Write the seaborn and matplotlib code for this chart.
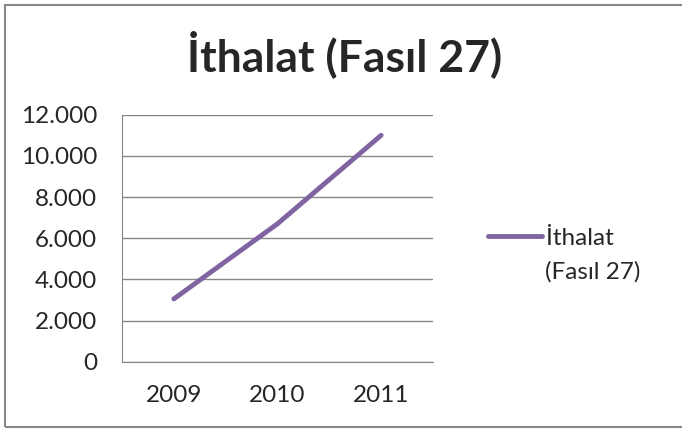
import matplotlib
matplotlib.use("Agg")
import matplotlib.pyplot as plt
import matplotlib.ticker as mticker
from matplotlib.patches import Rectangle
import seaborn as sns
import pandas as pd

# data
years = ["2009", "2010", "2011"]
imports = [3050, 6700, 11000]
series_name = "İthalat (Fasıl 27)"

sns.set_style("white")
plt.rcParams['font.family'] = ['Lato', 'DejaVu Sans']

df = pd.DataFrame({"year": years, "value": imports})

fig = plt.figure(figsize=(6.82, 4.29), dpi=100)
ax = fig.add_axes([122 / 682, 1 - 361.7 / 429, (433 - 122) / 682, (361.7 - 114.7) / 429])

sns.lineplot(data=df, x="year", y="value", ax=ax, color="#8064A2",
             linewidth=3.5, label="İthalat", solid_capstyle="round")

ax.set_xlim(-0.5, 2.5)
ax.set_ylim(0, 12000)
ax.yaxis.set_major_locator(mticker.MultipleLocator(2000))
ax.yaxis.set_major_formatter(mticker.FuncFormatter(lambda v, p: f"{int(v):,}".replace(",", ".")))
ax.grid(axis="y", color="#868686", linewidth=1)
ax.set_axisbelow(True)

# Excel-style ticks between categories
ax.set_xticks([0, 1, 2])
ax.set_xticks([-0.5, 0.5, 1.5, 2.5], minor=True)
ax.tick_params(axis="x", which="major", length=0, pad=17, labelsize=17.5)
ax.tick_params(axis="x", which="minor", length=6, color="#868686", width=1)
ax.tick_params(axis="y", length=9, color="#868686", width=1, labelsize=17.5, pad=9,
               direction="out")
ax.set_xlabel("")
ax.set_ylabel("")

for side in ["top", "right"]:
    ax.spines[side].set_visible(False)
ax.spines["left"].set_color("#868686")
ax.spines["bottom"].set_color("#868686")

leg = ax.legend(loc="center left", bbox_to_anchor=(1.108, 0.5), frameon=False,
                fontsize=17.5, handlelength=2.2, handletextpad=0.15)
fig.text(545 / 682, 1 - 272 / 429, "(Fasıl 27)", ha="left", va="center", fontsize=17.5)

fig.text(0.505, 1 - 54 / 429, series_name, ha="center", va="center",
         fontsize=32, fontweight="bold")

fig.patches.append(Rectangle((5 / 682, 1 - 427 / 429), 1.0, (427 - 4.5) / 429,
                             transform=fig.transFigure, fill=False,
                             edgecolor="#888888", linewidth=1.5))

plt.savefig("out.png", dpi=100)
